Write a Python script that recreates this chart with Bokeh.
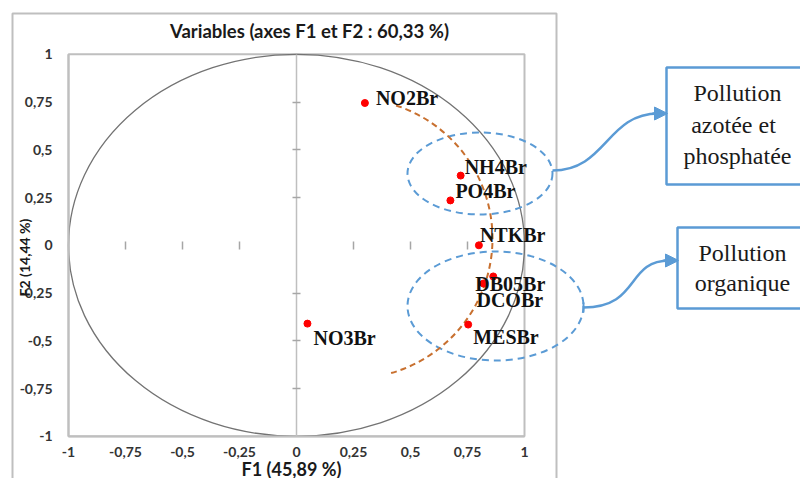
import math
from bokeh.plotting import figure
from bokeh.models import (LinearAxis, FixedTicker, ColumnDataSource, Label, Arrow,
                          NormalHead, Range1d, CustomJSTickFormatter)
from bokeh.core.properties import value
from bokeh.embed import file_html
from bokeh.resources import INLINE

# ---------------- data ----------------
variables = ["NO2Br", "NH4Br", "PO4Br", "NTKBr", "DB05Br", "DCOBr", "MESBr", "NO3Br"]
f1 = [0.30, 0.72, 0.675, 0.80, 0.863, 0.82, 0.753, 0.048]
f2 = [0.745, 0.365, 0.235, 0.0, -0.163, -0.20, -0.415, -0.41]
tick_values = [-1, -0.75, -0.5, -0.25, 0, 0.25, 0.5, 0.75, 1]
tick_labels = ["-1", "-0,75", "-0,5", "-0,25", "0", "0,25", "0,5", "0,75", "1"]
title_text = "Variables (axes F1 et F2 : 60,33 %)"
x_title = "F1 (45,89 %)"
y_title = "F2 (14,44 %)"
group_labels = [["Pollution", "azotée et", "phosphatée"], ["Pollution", "organique"]]

# label offsets (screen px) for the variable names
lab_dx = [11, 4, 5, 1, -18, -7, 5, 6]
lab_dy = [-5, -8.5, -9.5, -10, 8, 16, 12.5, 14]

# ---------------- layout helpers ----------------
W, H = 800, 478
X0, SX = 296.0, 228.0
Y0, SY = 244.8, 191.0


def dx(px):
    return (px - X0) / SX


def dy(py):
    return (Y0 - py) / SY


BLUE = "#5B9BD5"
GRAY = "#BFBFBF"

p = figure(width=W, height=H,
           x_range=Range1d(dx(0), dx(W)), y_range=Range1d(dy(H), dy(0)),
           x_axis_type=None, y_axis_type=None,
           output_backend="svg", toolbar_location=None, min_border=0)
p.outline_line_color = None
p.background_fill_color = "white"
p.border_fill_color = "white"

# outer chart border
p.line([dx(12), dx(12), dx(556), dx(556)], [dy(490), dy(13), dy(13), dy(490)],
       line_color=GRAY, line_width=2)
# inner plot frame
p.quad(left=[-1], right=[1], bottom=[-1], top=[1], fill_color=None,
       line_color=GRAY, line_width=2)

# correlation circle
p.ellipse(x=[0], y=[0], width=[2], height=[2], fill_color=None,
          line_color="#737373", line_width=1.3)

# group ellipses
p.ellipse(x=[dx(479.5), dx(495)], y=[dy(173), dy(305.5)], width=[145, 176], height=[82, 109],
          width_units="screen", height_units="screen", fill_color=None,
          line_color=BLUE, line_dash="7 5", line_width=2)

# orange dashed arc
p.arc(x=[dx(352)], y=[dy(238)], radius=[140], radius_units="screen",
      start_angle=[math.radians(-74)], end_angle=[math.radians(72)], direction="anticlock",
      line_color="#C8702F", line_dash="6 4", line_width=2)

# points
src = ColumnDataSource(dict(x=f1, y=f2, name=variables, xo=lab_dx, yo=lab_dy))
p.scatter("x", "y", source=src, size=7, fill_color="#FF0000", line_color="#FF0000")
p.text("x", "y", text="name", x_offset="xo", y_offset="yo", source=src,
       text_font=value("Liberation Serif"), text_font_style="bold", text_font_size="20px",
       text_color="#111111", text_align="left", text_baseline="middle")

# text boxes
p.quad(left=[dx(666), dx(677)], right=[dx(810), dx(810)], top=[dy(67), dy(227)],
       bottom=[dy(184), dy(308)], fill_color="white", line_color=BLUE, line_width=2.5)
box_x = [737, 733, 737, 742, 742]
box_y = [92, 124, 155, 252, 282]
box_t = group_labels[0] + group_labels[1]
p.text(x=[dx(v) for v in box_x], y=[dy(v) for v in box_y], text=box_t,
       text_font=value("Liberation Serif"), text_font_size="24px", text_color="#1a1a1a",
       text_align="center", text_baseline="middle")

# arrows
p.bezier(x0=[dx(552), dx(583)], y0=[dy(170), dy(307)], x1=[dx(658), dx(669)], y1=[dy(113), dy(260)],
         cx0=[dx(606), dx(640)], cy0=[dy(170), dy(307)], cx1=[dx(606), dx(625)], cy1=[dy(113), dy(260)],
         line_color=BLUE, line_width=2.5)
p.segment(x0=[dx(583)], y0=[dy(302)], x1=[dx(583)], y1=[dy(312)], line_color=BLUE, line_width=2)
for xs, xe, yy in [(652, 667, 113), (663, 678, 260)]:
    p.add_layout(Arrow(end=NormalHead(size=13, fill_color=BLUE, line_color=BLUE),
                       x_start=dx(xs), y_start=dy(yy), x_end=dx(xe), y_end=dy(yy),
                       line_color=BLUE, line_width=2.5))

# axes
fmt = CustomJSTickFormatter(args=dict(vals=tick_values, labs=tick_labels), code="""
const i = vals.findIndex(v => Math.abs(v - tick) < 1e-9);
return i >= 0 ? labs[i] : '';
""")
inner_ticks = [v for v in tick_values if abs(v) < 1 and v != 0]


def style_labels(ax):
    ax.major_label_text_font = "Lato"
    ax.major_label_text_font_style = "bold"
    ax.major_label_text_font_size = "14px"
    ax.major_label_text_color = "#333333"


yl = LinearAxis(fixed_location=-1, ticker=FixedTicker(ticks=tick_values), formatter=fmt,
                bounds=(-1, 1), axis_line_color=GRAY, axis_line_width=2,
                major_tick_in=0, major_tick_out=0, minor_tick_in=0, minor_tick_out=0,
                major_label_standoff=16)
style_labels(yl)
p.add_layout(yl, "left")

xb = LinearAxis(fixed_location=-1, ticker=FixedTicker(ticks=tick_values), formatter=fmt,
                bounds=(-1, 1), axis_line_color=GRAY, axis_line_width=2,
                major_tick_in=0, major_tick_out=0, minor_tick_in=0, minor_tick_out=0,
                major_label_standoff=11)
style_labels(xb)
p.add_layout(xb, "below")

yc = LinearAxis(fixed_location=0, ticker=FixedTicker(ticks=inner_ticks), bounds=(-1, 1),
                axis_line_color=GRAY, axis_line_width=1.5, major_tick_in=4, major_tick_out=4,
                major_tick_line_color="#A6A6A6", major_tick_line_width=1.5,
                minor_tick_in=0, minor_tick_out=0, major_label_text_alpha=0)
p.add_layout(yc, "left")

xc = LinearAxis(fixed_location=0, ticker=FixedTicker(ticks=inner_ticks), bounds=(-1, 1),
                axis_line_alpha=0, major_tick_in=4, major_tick_out=4,
                major_tick_line_color="#A6A6A6", major_tick_line_width=1.5,
                minor_tick_in=0, minor_tick_out=0, major_label_text_alpha=0)
p.add_layout(xc, "below")

# titles
p.add_layout(Label(x=dx(309), y=dy(30), text=title_text, text_font="Lato", text_font_style="bold",
                   text_font_size="18.5px", text_color="#1a1a1a", text_align="center",
                   text_baseline="middle"))
p.add_layout(Label(x=dx(291), y=dy(468), text=x_title, text_font="Lato", text_font_style="bold",
                   text_font_size="18px", text_color="#1a1a1a", text_align="center",
                   text_baseline="middle"))
p.add_layout(Label(x=dx(24), y=dy(257), text=y_title, text_font="Lato", text_font_style="bold",
                   text_font_size="14px", text_color="#1a1a1a", text_align="center",
                   text_baseline="middle", angle=math.pi / 2))

open("out.html", "w").write(file_html(p, INLINE))
